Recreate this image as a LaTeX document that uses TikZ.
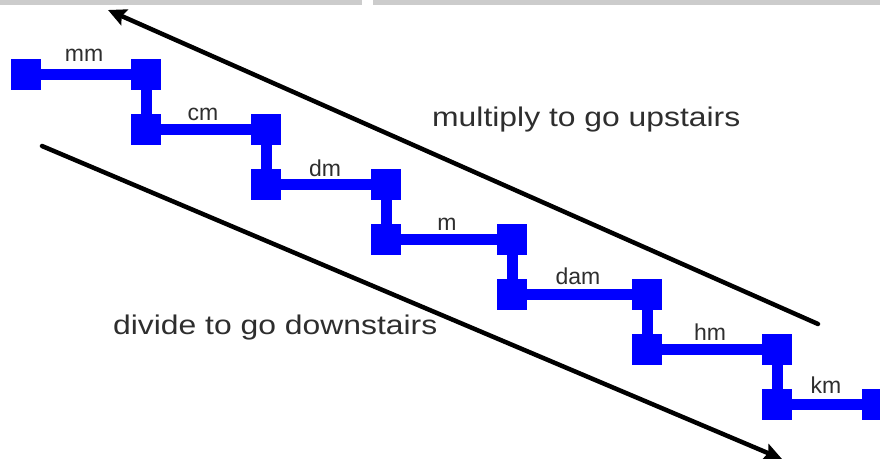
\documentclass[tikz,border=0pt]{standalone}
\usepackage{fontspec}
\setmainfont{Liberation Sans}
\usetikzlibrary{arrows.meta}
\definecolor{stairblue}{HTML}{0000FF}
\definecolor{txtgray}{HTML}{2E2E2E}
\definecolor{bargray}{HTML}{CCCCCC}
\begin{document}
\begin{tikzpicture}[x=1pt,y=-1pt,
  sq/.style={fill=stairblue,inner sep=0pt,minimum width=30.5pt,minimum height=31pt},
  hbar/.style={draw=stairblue,line width=11.5pt},
  vbar/.style={draw=stairblue,line width=11pt},
  lab/.style={text=txtgray,font=\fontsize{23}{27}\selectfont,inner sep=0pt,anchor=base},
  big/.style={text=txtgray,font=\fontsize{27}{32}\selectfont,inner sep=0pt,anchor=base west},
  arr/.style={line width=4.5pt,line cap=round,-{Stealth[length=18pt,width=17pt,inset=3pt]}}]
\useasboundingbox (0,0) rectangle (880,458);
\clip (0,0) rectangle (880,458);
\fill[white] (0,0) rectangle (880,458);
\fill[bargray] (0,0) rectangle (362,4.5);
\fill[bargray] (373,0) rectangle (880,4.5);
% squares
\def\cols{{26,146,266,386,512,647,777,877}}
\foreach \k in {0,...,6}{
  \pgfmathsetmacro{\xl}{\cols[\k]}
  \pgfmathsetmacro{\xr}{\cols[\k+1]}
  \pgfmathsetmacro{\yy}{74.5+55*\k}
  \node[sq] (a\k) at (\xl,\yy) {};
  \node[sq] (b\k) at (\xr,\yy) {};
  \draw[hbar] (a\k.center) -- (b\k.center);
}
\foreach \k [evaluate=\k as \n using int(\k+1)] in {0,...,5}{
  \draw[vbar] (b\k.center) -- (a\n.center);
}
% labels
\node[lab] (lmm) at (84,61) {mm};
\node[lab] (lcm) at (203,120) {cm};
\node[lab] (ldm) at (325,176) {dm};
\node[lab] (lm) at (447,230) {m};
\node[lab] (ldam) at (578,284) {dam};
\node[lab] (lhm) at (710,340) {hm};
\node[lab] (lkm) at (826,393) {km};
% arrows
\coordinate (u1) at (818,324);
\coordinate (u2) at (108,10);
\draw[arr] (u1) -- (u2);
\coordinate (d1) at (42,146);
\coordinate (d2) at (782,459);
\draw[arr] (d1) -- (d2);
% texts
\node[big] (up) at (432,126) {\scalebox{1.18}[1]{multiply to go upstairs}};
\node[big] (down) at (113,334) {\scalebox{1.18}[1]{divide to go downstairs}};
\end{tikzpicture}
\end{document}
